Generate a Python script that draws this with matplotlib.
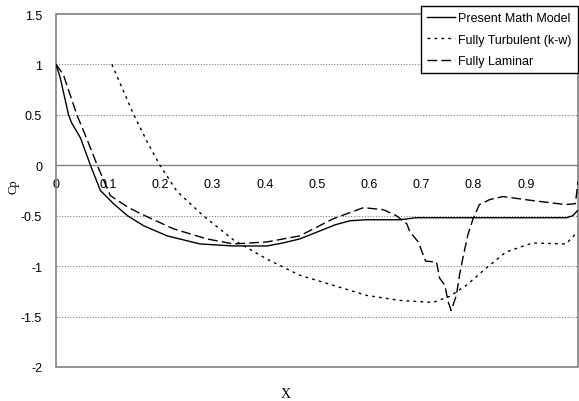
import matplotlib.pyplot as plt
from matplotlib.patches import Rectangle

# Present Math Model
x_model = [0.0, 0.008, 0.024, 0.03, 0.047, 0.066, 0.085, 0.11, 0.137, 0.168, 0.213,
           0.276, 0.34, 0.404, 0.435, 0.467, 0.506, 0.535, 0.563, 0.595, 0.659,
           0.69, 0.8, 0.9, 0.978, 0.99, 0.999]
cp_model = [1.0, 0.87, 0.5, 0.42, 0.27, 0.0, -0.25, -0.38, -0.5, -0.6, -0.7,
            -0.78, -0.8, -0.8, -0.77, -0.73, -0.65, -0.59, -0.55, -0.54, -0.54,
            -0.52, -0.52, -0.52, -0.52, -0.5, -0.45]

# Fully Turbulent (k-w)
x_turb = [0.107, 0.128, 0.149, 0.175, 0.199, 0.232, 0.282, 0.34, 0.404, 0.467,
          0.531, 0.595, 0.659, 0.722, 0.754, 0.786, 0.824, 0.862, 0.913, 0.977, 0.999]
cp_turb = [1.0, 0.75, 0.5, 0.23, 0.0, -0.26, -0.5, -0.74, -0.93, -1.09,
           -1.19, -1.29, -1.34, -1.36, -1.3, -1.19, -1.02, -0.86, -0.77, -0.78, -0.66]

# Fully Laminar
x_lam = [0.0, 0.014, 0.04, 0.06, 0.079, 0.104, 0.136, 0.162, 0.225, 0.289, 0.34,
         0.404, 0.467, 0.531, 0.589, 0.627, 0.652, 0.672, 0.678, 0.694, 0.708,
         0.729, 0.735, 0.745, 0.751, 0.757, 0.767, 0.773, 0.779, 0.789, 0.799,
         0.811, 0.831, 0.856, 0.913, 0.977, 0.995, 1.0]
cp_lam = [1.0, 0.9, 0.5, 0.25, 0.0, -0.3, -0.41, -0.48, -0.63, -0.73, -0.78,
          -0.76, -0.7, -0.53, -0.42, -0.44, -0.5, -0.58, -0.66, -0.76, -0.95,
          -0.96, -1.12, -1.19, -1.35, -1.44, -1.29, -1.09, -0.93, -0.69, -0.53,
          -0.39, -0.34, -0.31, -0.35, -0.39, -0.38, -0.16]

xticks = [0, 0.1, 0.2, 0.3, 0.4, 0.5, 0.6, 0.7, 0.8, 0.9]
xticklabels = ["0", "0.1", "0.2", "0.3", "0.4", "0.5", "0.6", "0.7", "0.8", "0.9"]
yticks = [-2, -1.5, -1, -0.5, 0, 0.5, 1, 1.5]
yticklabels = ["-2", "-1.5", "-1", "-0.5", "0", "0.5", "1", "1.5"]

plt.rcParams['font.family'] = ['Liberation Sans', 'DejaVu Sans']

fig = plt.figure(figsize=(5.79, 4.02), dpi=100)
ax = fig.add_axes([56 / 579, 34 / 402, 522 / 579, 353 / 402])
ax.set_xlim(0, 1)
ax.set_ylim(-2, 1.5)

# dotted grid, solid zero line
for g in [1, 0.5, -0.5, -1, -1.5]:
    ax.axhline(g, color='#808080', lw=0.8, ls=(0, (1, 1.5)), zorder=1)

ax.plot(x_model, cp_model, color='black', lw=1.0, label='Present Math Model', zorder=3)
ax.plot(x_turb, cp_turb, color='black', lw=1.0, ls=(0, (2, 3)),
        label='Fully Turbulent (k-w)', zorder=3)
ax.plot(x_lam, cp_lam, color='black', lw=1.0, ls=(0, (7, 3)),
        label='Fully Laminar', zorder=3)

# x axis crosses at 0
for s in ['top', 'right', 'left']:
    ax.spines[s].set_visible(False)
ax.spines['bottom'].set_position(('data', 0))
ax.spines['bottom'].set_color('#808080')
ax.spines['bottom'].set_linewidth(1.0)
ax.add_patch(Rectangle((0, 0), 1, 1, transform=ax.transAxes, fill=False,
                       edgecolor='#808080', lw=1.2, clip_on=False, zorder=2))

ax.set_xticks(xticks)
ax.set_xticklabels(xticklabels)
ax.set_yticks(yticks)
ax.set_yticklabels(yticklabels)
ax.tick_params(axis='both', length=0, labelsize=9, colors='black')
ax.tick_params(axis='x', pad=9)
ax.tick_params(axis='y', pad=10)

fig.text(286 / 579, 1 - 395 / 402, 'X', family='Liberation Serif', fontsize=10,
         ha='center', va='center')
fig.text(14 / 579, 1 - 187 / 402, 'Cp', family='Liberation Serif', fontsize=9,
         ha='center', va='center', rotation=90)

leg = ax.legend(loc='upper right', bbox_to_anchor=(578 / 579, 1 - 7 / 402),
                bbox_transform=fig.transFigure, fontsize=9, frameon=True,
                fancybox=False, edgecolor='black', framealpha=1,
                handlelength=2.2, handletextpad=0.3, labelspacing=0.75,
                borderpad=0.5, borderaxespad=0)
leg.get_frame().set_linewidth(1.0)
leg.set_zorder(5)

fig.savefig('out.png', dpi=100)
